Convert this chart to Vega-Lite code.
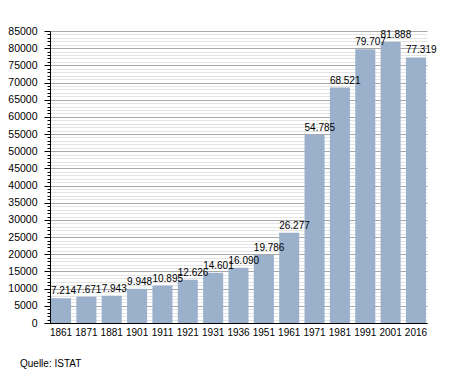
{
  "$schema": "https://vega.github.io/schema/vega-lite/v6.json",
  "autosize": "none",
  "width": 377,
  "height": 292,
  "padding": {"left": 50, "top": 31, "right": 28, "bottom": 50},
  "background": "white",
  "title": {"text": "Quelle: ISTAT", "orient": "bottom", "anchor": "start", "frame": "group", "dx": -30, "offset": 22, "font": "Liberation Sans", "fontSize": 10, "fontWeight": "normal", "color": "#000"},
  "config": {
    "view": {"stroke": null},
    "locale": {"number": {"decimal": ",", "thousands": ".", "grouping": [3], "currency": ["", " €"]}}
  },
  "data": {"values": [
    {"year": "1861", "pop": 7214},
    {"year": "1871", "pop": 7671},
    {"year": "1881", "pop": 7943},
    {"year": "1901", "pop": 9948},
    {"year": "1911", "pop": 10895},
    {"year": "1921", "pop": 12626},
    {"year": "1931", "pop": 14601},
    {"year": "1936", "pop": 16090},
    {"year": "1951", "pop": 19786},
    {"year": "1961", "pop": 26277},
    {"year": "1971", "pop": 54785},
    {"year": "1981", "pop": 68521},
    {"year": "1991", "pop": 79707},
    {"year": "2001", "pop": 81888},
    {"year": "2016", "pop": 77319}
  ]},
  "encoding": {
    "x": {"field": "year", "type": "ordinal", "sort": null,
      "scale": {"paddingInner": 0.21, "paddingOuter": 0.04},
      "axis": {"title": null, "labelAngle": 0, "ticks": false, "labelPadding": 4, "labelFont": "Liberation Sans", "labelFontSize": 10, "labelColor": "#000", "domainColor": "#000", "domainWidth": 1, "grid": false}},
    "y": {"field": "pop", "type": "quantitative",
      "scale": {"domain": [0, 85000], "nice": false, "zero": true},
      "axis": {"title": null, "values": [0,1000,2000,3000,4000,5000,6000,7000,8000,9000,10000,11000,12000,13000,14000,15000,16000,17000,18000,19000,20000,21000,22000,23000,24000,25000,26000,27000,28000,29000,30000,31000,32000,33000,34000,35000,36000,37000,38000,39000,40000,41000,42000,43000,44000,45000,46000,47000,48000,49000,50000,51000,52000,53000,54000,55000,56000,57000,58000,59000,60000,61000,62000,63000,64000,65000,66000,67000,68000,69000,70000,71000,72000,73000,74000,75000,76000,77000,78000,79000,80000,81000,82000,83000,84000,85000],
        "format": "d",
        "labelExpr": "datum.value % 5000 === 0 ? datum.value : ''",
        "labelFont": "Liberation Sans", "labelFontSize": 10.5, "labelColor": "#000", "labelPadding": 7,
        "domainColor": "#000", "domainWidth": 1,
        "tickColor": "#000",
        "tickSize": {"condition": {"test": "datum.value % 5000 === 0", "value": 6}, "value": 3},
        "grid": true,
        "gridColor": {"condition": {"test": "datum.value % 5000 === 0", "value": "#a8a8a8"}, "value": "#e4e4e4"},
        "gridWidth": 1,
        "labelOverlap": false}}
  },
  "layer": [
    {"mark": {"type": "bar", "color": "#9ab0cb"}},
    {"mark": {"type": "text", "align": "left", "baseline": "alphabetic", "dy": -4, "font": "Liberation Sans", "fontSize": 10, "color": "#000"},
      "encoding": {
        "x": {"field": "year", "type": "ordinal", "sort": null, "bandPosition": 0},
        "text": {"field": "pop", "type": "quantitative", "format": ",d"}}}
  ]
}
